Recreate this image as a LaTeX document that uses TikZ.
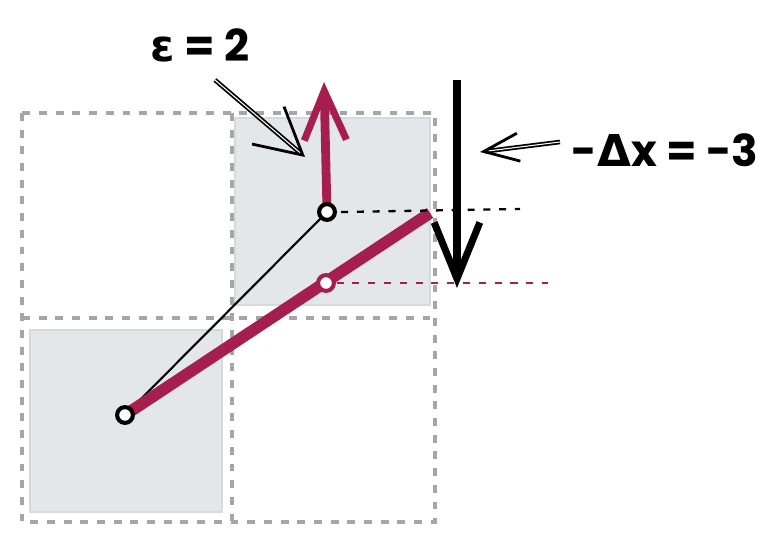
\documentclass[tikz,border=0pt]{standalone}
\usepackage{fontspec}
\setmainfont{Poppins}
\newfontfamily\greekfont{DejaVu Sans}
\usetikzlibrary{arrows.meta, positioning}
\definecolor{crimson}{HTML}{A61E4D}
\definecolor{cellfill}{HTML}{E4E7EA}
\definecolor{cellline}{HTML}{D6DADE}
\definecolor{gridgray}{HTML}{A6A6A6}

\begin{document}
\begin{tikzpicture}[
    x=0.02cm, y=-0.02cm,
    every node/.style={font=\fontsize{25}{30}\selectfont\bfseries},
    grid/.style={gridgray, line width=1.8pt, dash pattern=on 4.5pt off 5pt},
    cell/.style={fill=cellfill, draw=cellline, line width=0.8pt},
    pt/.style={circle, draw=black, fill=white, line width=2.3pt, minimum size=9pt, inner sep=0pt},
    ptmid/.style={circle, draw=crimson, fill=white, line width=2.3pt, minimum size=9pt, inner sep=0pt},
    guide/.style={line width=1.3pt, dash pattern=on 4pt off 5pt},
    pointer/.style={line width=1pt, double distance=0.6pt},
]
\useasboundingbox (0,0) rectangle (778,547);
% shaded cells
\draw[cell] (235,118) rectangle (430,305);
\draw[cell] (30,330) rectangle (222,512);
% dashed grid
\draw[grid] (22,113) rectangle (435,522);
\draw[grid] (232,113) -- (232,522);
\draw[grid] (22,318) -- (435,318);
% points
\coordinate (start) at (125,415);
\coordinate (old) at (327,212);
\coordinate (new) at (326,283);
\coordinate (tipr) at (430,213);
% thin line and thick crimson line
\draw[line width=1.2pt] (start) -- (old);
\draw[crimson, line width=6.6pt] (start) -- (tipr);
% guide lines
\coordinate (oldend) at (520,209);
\coordinate (newend) at (548,283);
\draw[guide] ([xshift=8pt]old) -- (oldend);
\draw[guide, crimson] ([xshift=6pt]new) -- (newend);
% epsilon arrow
\coordinate (epstop) at (324,82);
\draw[crimson, line width=5pt, -{Straight Barb[length=28pt, width=24pt, line width=4pt]}]
      (old) -- (epstop);
% -dx arrow
\coordinate (dxtop) at (457,80);
\coordinate (dxbot) at (457,288);
\draw[line width=5pt, -{Straight Barb[length=32pt, width=26pt, line width=4pt]}]
      (dxtop) -- (dxbot);
% point markers
\node[pt] (p0) at (start) {};
\node[pt] (p1) at (old) {};
\node[ptmid] (pm) at (new) {};
% labels
\node (eps) at (200,45) {{\greekfont ε} = 2};
\node (dx) at (665,150) {-{\greekfont Δ}x = -3};
\coordinate (epspt) at (305,157);
\coordinate (dxpt) at (480,152);
\draw[pointer, -{Straight Barb[length=26pt, width=28pt, line width=1.6pt]}]
      (215,80) -- (epspt);
\draw[pointer, -{Straight Barb[length=20pt, width=16pt, line width=1.6pt]}]
      (560,142) -- (dxpt);
\end{tikzpicture}
\end{document}
